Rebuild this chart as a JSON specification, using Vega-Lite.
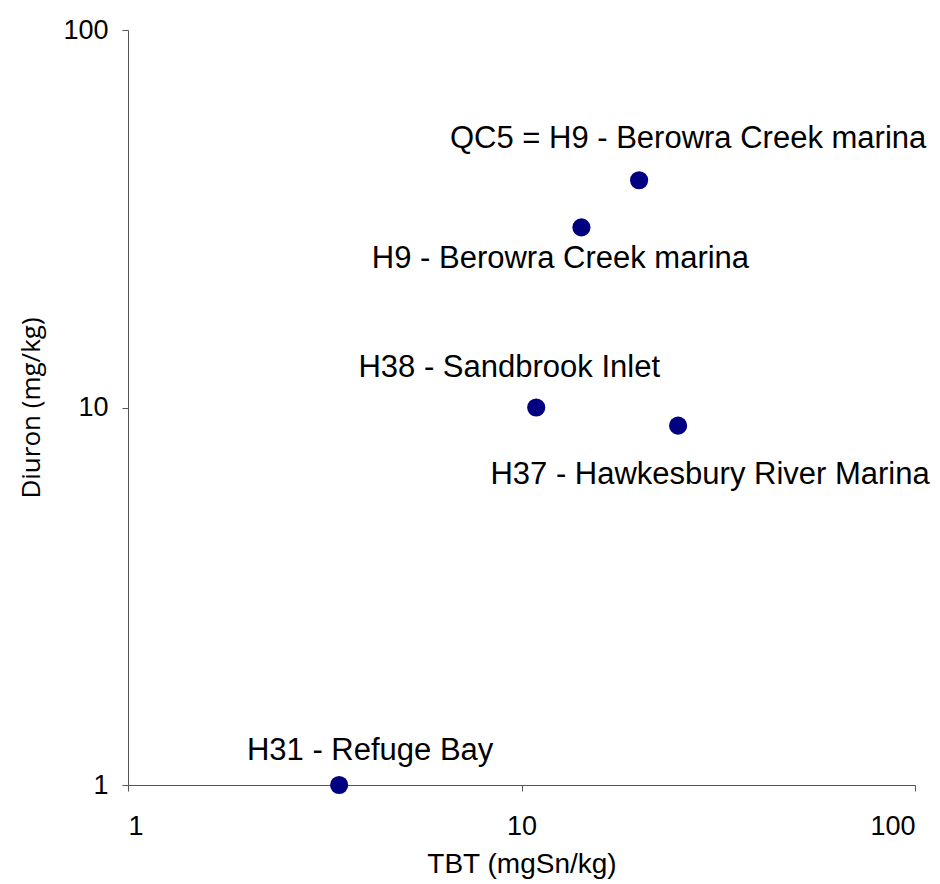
{
  "$schema": "https://vega.github.io/schema/vega-lite/v6.json",
  "autosize": "none",
  "width": 787,
  "height": 755,
  "padding": {"left": 128, "top": 30, "right": 25, "bottom": 99},
  "background": "white",
  "config": {
    "view": {"stroke": null},
    "axis": {
      "grid": false,
      "domainColor": "#555555",
      "tickColor": "#555555",
      "tickSize": 6,
      "labelFont": "Liberation Sans",
      "labelFontSize": 27,
      "labelColor": "#000000",
      "titleColor": "#000000",
      "titleFontWeight": "normal"
    }
  },
  "data": {
    "values": [
      {"site": "H31 - Refuge Bay", "TBT": 3.44, "Diuron": 1.0},
      {"site": "H38 - Sandbrook Inlet", "TBT": 10.9, "Diuron": 10.0},
      {"site": "H37 - Hawkesbury River Marina", "TBT": 25.0, "Diuron": 8.95},
      {"site": "H9 - Berowra Creek marina", "TBT": 14.2, "Diuron": 30.0},
      {"site": "QC5 = H9 - Berowra Creek marina", "TBT": 19.9, "Diuron": 40.0}
    ]
  },
  "encoding": {
    "x": {
      "field": "TBT",
      "type": "quantitative",
      "scale": {"type": "log", "domain": [1, 100], "nice": false},
      "axis": {
        "values": [1, 10, 100],
        "format": "d",
        "labelPadding": 22,
        "title": "TBT (mgSn/kg)",
        "titleFont": "Liberation Sans",
        "titleFontSize": 28,
        "titlePadding": 11
      }
    },
    "y": {
      "field": "Diuron",
      "type": "quantitative",
      "scale": {"type": "log", "domain": [1, 100], "nice": false},
      "axis": {
        "values": [1, 10, 100],
        "format": "d",
        "labelPadding": 14,
        "title": "Diuron (mg/kg)",
        "titleFont": "Open Sans",
        "titleFontSize": 26,
        "titlePadding": 18
      }
    }
  },
  "layer": [
    {
      "mark": {"type": "point", "filled": true, "size": 330, "color": "#000080", "opacity": 1, "shape": "circle"}
    },
    {
      "transform": [{"filter": "datum.site == 'H31 - Refuge Bay'"}],
      "mark": {"type": "text", "font": "Liberation Sans", "fontSize": 31, "align": "center", "baseline": "alphabetic", "dx": 31, "dy": -25, "color": "#000000"},
      "encoding": {"text": {"field": "site"}}
    },
    {
      "transform": [{"filter": "datum.site == 'H38 - Sandbrook Inlet'"}],
      "mark": {"type": "text", "font": "Liberation Sans", "fontSize": 31, "align": "center", "baseline": "alphabetic", "dx": -27, "dy": -31, "color": "#000000"},
      "encoding": {"text": {"field": "site"}}
    },
    {
      "transform": [{"filter": "datum.site == 'H37 - Hawkesbury River Marina'"}],
      "mark": {"type": "text", "font": "Liberation Sans", "fontSize": 31, "align": "center", "baseline": "alphabetic", "dx": 32, "dy": 58, "color": "#000000"},
      "encoding": {"text": {"field": "site"}}
    },
    {
      "transform": [{"filter": "datum.site == 'H9 - Berowra Creek marina'"}],
      "mark": {"type": "text", "font": "Liberation Sans", "fontSize": 31, "align": "center", "baseline": "alphabetic", "dx": -21, "dy": 41, "color": "#000000"},
      "encoding": {"text": {"field": "site"}}
    },
    {
      "transform": [{"filter": "datum.site == 'QC5 = H9 - Berowra Creek marina'"}],
      "mark": {"type": "text", "font": "Liberation Sans", "fontSize": 31, "align": "center", "baseline": "alphabetic", "dx": 49, "dy": -32, "color": "#000000"},
      "encoding": {"text": {"field": "site"}}
    }
  ]
}
